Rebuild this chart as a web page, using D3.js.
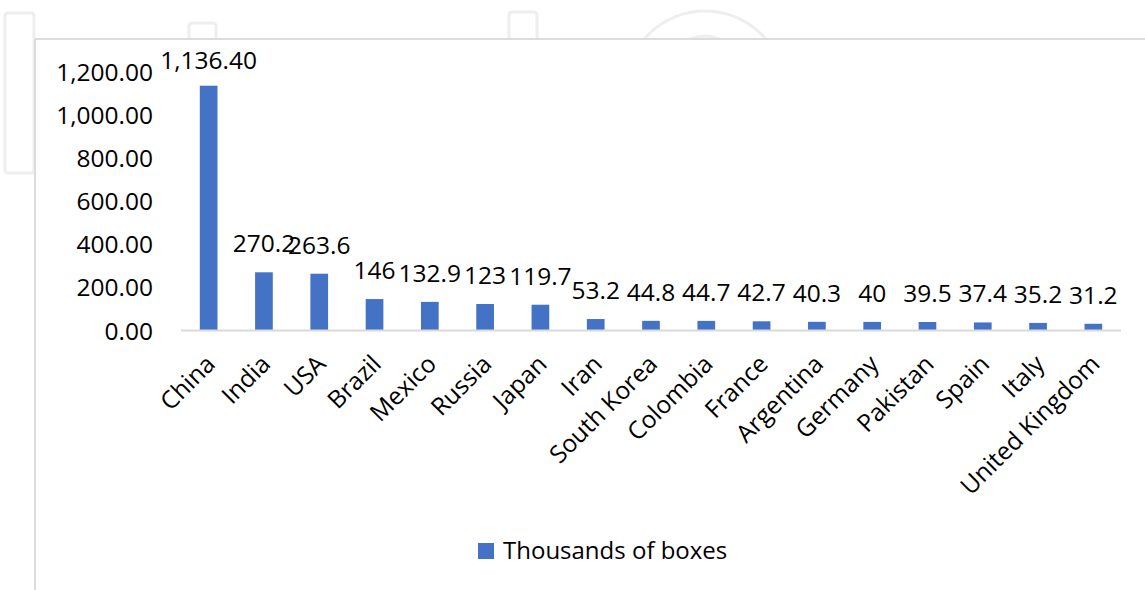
<!DOCTYPE html>
<html>
<head>
<meta charset="utf-8">
<script src="https://cdn.jsdelivr.net/npm/d3@7"></script>
<style>
  html, body { margin: 0; padding: 0; background: #fff; }
  svg { display: block; font-family: "Open Sans", "Noto Sans", sans-serif; }
</style>
</head>
<body>
<svg id="chart" width="1145" height="590"></svg>
<script>
const categories = ["China", "India", "USA", "Brazil", "Mexico", "Russia", "Japan", "Iran",
  "South Korea", "Colombia", "France", "Argentina", "Germany", "Pakistan", "Spain", "Italy", "United Kingdom"];
const values = [1136.4, 270.2, 263.6, 146, 132.9, 123, 119.7, 53.2, 44.8, 44.7, 42.7, 40.3, 40, 39.5, 37.4, 35.2, 31.2];
const valueLabels = ["1,136.40", "270.2", "263.6", "146", "132.9", "123", "119.7", "53.2", "44.8", "44.7", "42.7", "40.3", "40", "39.5", "37.4", "35.2", "31.2"];
const yTicks = [0, 200, 400, 600, 800, 1000, 1200];
const seriesName = "Thousands of boxes";

const svg = d3.select("#chart");
const W = 1145, H = 590;

// faint watermark shapes behind the chart frame
const wm = svg.append("g").attr("fill", "none").attr("stroke", "#eeeeee").attr("stroke-width", 3);
wm.append("rect").attr("x", 5).attr("y", 13).attr("width", 29).attr("height", 160).attr("rx", 3);
wm.append("rect").attr("x", 189).attr("y", 23).attr("width", 27).attr("height", 30).attr("rx", 3);
wm.append("rect").attr("x", 509).attr("y", 12).attr("width", 28).attr("height", 40).attr("rx", 3);
wm.append("circle").attr("cx", 705).attr("cy", 91).attr("r", 80);
wm.append("circle").attr("cx", 705).attr("cy", 70).attr("r", 34);

// chart area
svg.append("rect").attr("x", 35).attr("y", 39).attr("width", W - 35).attr("height", H - 39).attr("fill", "#fff");
svg.append("line").attr("x1", 35).attr("x2", W).attr("y1", 39).attr("y2", 39)
  .attr("stroke", "#dadddd").attr("stroke-width", 2);
svg.append("line").attr("x1", 35).attr("x2", 35).attr("y1", 39).attr("y2", H)
  .attr("stroke", "#dadddd").attr("stroke-width", 2);

const x = d3.scaleBand().domain(categories).range([181, 1121]).paddingInner(0.68).paddingOuter(0.34);
const y = d3.scaleLinear().domain([0, 1200]).range([330.5, 72]);

// y axis labels (no line, no ticks)
const yAxis = d3.axisLeft(y).tickValues(yTicks).tickFormat(d3.format(",.2f")).tickSize(0).tickPadding(0);
const gy = svg.append("g").attr("transform", "translate(153,0)").call(yAxis);
gy.select(".domain").remove();
gy.selectAll("text").attr("font-size", 24.5).attr("fill", "#000").attr("font-family", "Open Sans").attr("dy", "0.35em");

// bars
svg.append("g").selectAll("rect").data(values).join("rect")
  .attr("x", (d, i) => x(categories[i]))
  .attr("y", d => y(d))
  .attr("width", x.bandwidth())
  .attr("height", d => y(0) - y(d))
  .attr("fill", "#4472c4");

// baseline
svg.append("line").attr("x1", 181).attr("x2", 1121).attr("y1", y(0)).attr("y2", y(0))
  .attr("stroke", "#d9d9d9").attr("stroke-width", 2);

// data labels
svg.append("g").selectAll("text").data(values).join("text")
  .attr("x", (d, i) => x(categories[i]) + x.bandwidth() / 2)
  .attr("y", d => Math.max(y(d) - 20, 69))
  .attr("text-anchor", "middle")
  .attr("font-size", 24.5)
  .attr("fill", "#000")
  .text((d, i) => valueLabels[i]);

// x axis labels rotated
const xAxis = d3.axisBottom(x).tickSize(0).tickPadding(0);
const gx = svg.append("g").attr("transform", `translate(0,${y(0)})`).call(xAxis);
gx.select(".domain").remove();
gx.selectAll(".tick text")
  .attr("font-size", 24.5).attr("fill", "#000").attr("font-family", "Open Sans")
  .attr("text-anchor", "end")
  .attr("dy", 0).attr("y", 0)
  .attr("transform", "translate(8,35) rotate(-45)");

// legend
const lg = svg.append("g");
lg.append("rect").attr("x", 478).attr("y", 543).attr("width", 16).attr("height", 16).attr("fill", "#4472c4");
lg.append("text").attr("x", 503).attr("y", 559).attr("font-size", 24).attr("fill", "#000").text(seriesName);
</script>
</body>
</html>
